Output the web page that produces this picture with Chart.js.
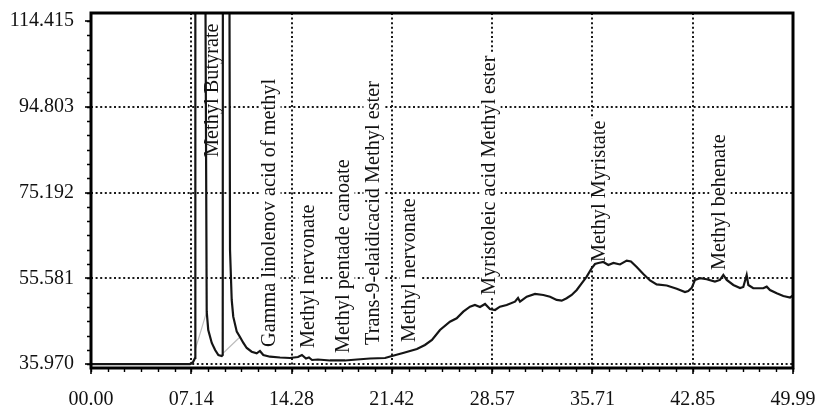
<!DOCTYPE html>
<html>
<head>
<meta charset="utf-8">
<script src="https://cdn.jsdelivr.net/npm/chart.js@4/dist/chart.umd.min.js"></script>
<style>
  html, body { margin: 0; padding: 0; background: #fff; }
  canvas { display: block; }
</style>
</head>
<body>
<canvas id="chart" width="822" height="408"></canvas>
<script>
// retention time (min) and detector signal; 200 = off-scale peak top
const retentionTime = [0, 7.05, 7.26, 7.41, 7.43, 8.10, 8.15, 8.24, 8.35, 8.60, 8.84, 9.07, 9.31, 9.38, 9.40, 9.85, 9.86, 9.90,
    10.02, 10.13, 10.38, 10.61, 10.85, 11.09, 11.44, 11.80, 12.03, 12.27, 12.75, 13.46, 14.17, 14.74, 15.02, 15.31, 15.52, 15.74,
    16.16, 17.02, 18.09, 18.94, 19.87, 20.94, 21.43, 22.22, 23.21, 23.78, 24.28, 24.85, 25.56, 26.04, 26.51, 26.99, 27.34, 27.70,
    28.06, 28.41, 28.77, 29.12, 29.60, 30.19, 30.41, 30.55, 31.03, 31.62, 32.21, 32.69, 33.16, 33.52, 33.87, 34.23, 34.59, 34.94,
    35.30, 35.65, 35.89, 36.13, 36.48, 36.84, 37.20, 37.67, 38.15, 38.45, 38.86, 39.33, 39.81, 40.28, 41.00, 41.71, 42.30, 42.53,
    42.78, 43.01, 43.37, 43.84, 44.43, 44.79, 45.03, 45.27, 45.74, 46.22, 46.45, 46.69, 46.81, 47.16, 47.87, 48.12, 48.35, 48.83,
    49.30, 49.78, 49.99];
const signal = [36.0, 36.0, 36.4, 37.4, 200, 200, 120, 47.97, 43.79, 40.82, 39.22, 38.07, 37.84, 38.07, 200, 200, 120, 62.07,
    50.65, 46.83, 43.40, 42.19, 40.82, 39.67, 38.83, 38.46, 38.99, 38.07, 37.68, 37.50, 37.39, 37.62, 38.07, 37.27, 37.50, 36.93,
    37.04, 36.82, 36.82, 37.04, 37.27, 37.39, 37.84, 38.53, 39.44, 40.36, 41.50, 43.79, 45.69, 46.46, 47.97, 49.11, 49.50, 49.05,
    49.73, 48.59, 48.36, 49.11, 49.50, 50.26, 51.10, 50.26, 51.40, 52.02, 51.79, 51.40, 50.65, 50.49, 51.03, 51.79, 52.93, 54.46,
    55.97, 57.89, 58.87, 59.10, 59.33, 58.65, 59.10, 58.76, 59.63, 59.45, 58.19, 56.59, 55.10, 54.19, 53.96, 53.21, 52.47, 52.70,
    53.39, 55.22, 55.61, 55.38, 54.83, 55.22, 56.36, 55.22, 54.07, 53.39, 53.62, 56.36, 54.07, 53.32, 53.32, 53.69, 52.93, 52.18,
    51.56, 51.22, 51.67];

// faint grey baseline segments under the two big peaks
const baseTime = [7.41, 8.24, 8.9, 9.42, 10.61];
const baseSignal = [39.2, 47.97, null, 38.53, 42.19];

const xTicks = [0, 7.14, 14.28, 21.42, 28.57, 35.71, 42.85, 49.99];
const xTickLabels = ["00.00", "07.14", "14.28", "21.42", "28.57", "35.71", "42.85", "49.99"];
const yTicks = [35.970, 55.581, 75.192, 94.803, 114.415];

const peakNames = ["Methyl Butyrate", "Gamma linolenov acid of methyl", "Methyl nervonate", "Methyl pentade canoate",
    "Trans-9-elaidicacid Methyl ester", "Methyl nervonate", "Myristoleic acid Methyl ester", "Methyl Myristate", "Methyl behenate"];
const peakTimes = [8.72, 12.75, 15.52, 18.02, 20.15, 22.72, 28.41, 36.25, 44.79];
const peakLabelBase = [83.33, 39.90, 39.67, 38.53, 40.36, 41.05, 51.79, 59.33, 57.50];

const FONT = '"Liberation Serif", "Times New Roman", serif';

const toPoints = (xs, ys) => xs.map((x, i) => ({ x: x, y: ys[i] }));

const peakLabels = {
    id: "peakLabels",
    beforeDatasetsDraw(chart) {
        const ctx = chart.ctx;
        const x = chart.scales.x, y = chart.scales.y;
        ctx.save();
        ctx.font = "20.3px " + FONT;
        peakNames.forEach((name, i) => {
            const px = x.getPixelForValue(peakTimes[i]);
            const py = y.getPixelForValue(peakLabelBase[i]);
            const w = ctx.measureText(name).width;
            ctx.save();
            ctx.translate(px, py);
            ctx.rotate(-Math.PI / 2);
            ctx.fillStyle = "#fff";
            ctx.fillRect(-2, -10.5, w + 4, 21);
            ctx.fillStyle = "#111";
            ctx.textBaseline = "alphabetic";
            ctx.fillText(name, 0, 5);
            ctx.restore();
        });
        ctx.restore();
    }
};

const frameAndMinor = {
    id: "frameAndMinor",
    afterDraw(chart) {
        const ctx = chart.ctx;
        const a = chart.chartArea;
        const x = chart.scales.x, y = chart.scales.y;
        ctx.save();
        ctx.strokeStyle = "#000";
        ctx.lineWidth = 1.4;
        ctx.beginPath();
        const yStep = (yTicks[1] - yTicks[0]) / 6;
        for (let v = yTicks[0]; v <= y.max; v += yStep) {
            const py = Math.round(y.getPixelForValue(v)) + 0.5;
            ctx.moveTo(a.left - 4, py);
            ctx.lineTo(a.left, py);
        }
        const xStep = xTicks[1] / 6;
        for (let t = 0; t <= x.max + 0.01; t += xStep) {
            const px = Math.round(x.getPixelForValue(t)) + 0.5;
            ctx.moveTo(px, a.bottom);
            ctx.lineTo(px, a.bottom + 4);
        }
        ctx.stroke();
        ctx.lineWidth = 3;
        ctx.strokeRect(a.left, a.top, a.right - a.left, a.bottom - a.top);
        ctx.restore();
    }
};

const gridOpts = (hidden) => ({
    color: (c) => (c.tick && hidden.includes(c.tick.value)) ? "rgba(0,0,0,0)" : "#1a1a1a",
    lineWidth: 2,
    drawTicks: true,
    tickLength: 6,
    tickColor: "#000",
    tickWidth: 1.6,
    tickBorderDash: []
});

new Chart(document.getElementById("chart"), {
    type: "scatter",
    data: {
        datasets: [{
            data: toPoints(retentionTime, signal),
            showLine: true,
            borderColor: "#151515",
            borderWidth: 2.2,
            pointRadius: 0,
            tension: 0
        }, {
            data: toPoints(baseTime, baseSignal),
            showLine: true,
            borderColor: "#bdbdbd",
            borderWidth: 1.2,
            pointRadius: 0,
            spanGaps: false
        }]
    },
    options: {
        responsive: false,
        animation: false,
        layout: { padding: { top: 13, right: 29, left: 0, bottom: 0 } },
        plugins: { legend: { display: false }, tooltip: { enabled: false } },
        scales: {
            x: {
                type: "linear",
                min: 0,
                max: 49.99,
                afterBuildTicks: (s) => { s.ticks = xTicks.map(v => ({ value: v })); },
                afterFit: (s) => { s.height = 40; s.paddingLeft = 0; s.paddingRight = 0; },
                ticks: {
                    callback: (v, i) => xTickLabels[i],
                    autoSkip: false,
                    maxRotation: 0,
                    padding: 14,
                    color: "#111",
                    font: { family: FONT, size: 20 }
                },
                grid: gridOpts([0, 49.99]),
                border: { display: false, dash: [2, 2.6] }
            },
            y: {
                min: 35.10,
                max: 116.22,
                afterBuildTicks: (s) => { s.ticks = yTicks.map(v => ({ value: v })); },
                afterFit: (s) => { s.width = 91; s.paddingTop = 0; s.paddingBottom = 0; },
                ticks: {
                    callback: (v) => v.toFixed(3),
                    padding: 11,
                    color: "#111",
                    font: { family: FONT, size: 20 }
                },
                grid: gridOpts([114.415]),
                border: { display: false, dash: [2, 2.6] }
            }
        }
    },
    plugins: [peakLabels, frameAndMinor]
});
</script>
</body>
</html>
